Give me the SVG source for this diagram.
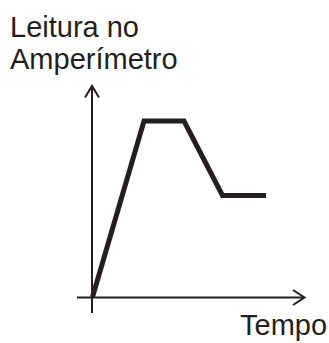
<svg xmlns="http://www.w3.org/2000/svg" width="329" height="343" viewBox="0 0 329 343">
<style>
.lbl{font-family:"Liberation Sans",Arial,sans-serif;font-size:29px;fill:#231f20}
.axis{stroke:#231f20;stroke-width:2;fill:none}
.curve{stroke:#231f20;stroke-width:5;fill:none;stroke-linejoin:miter}
</style>
<rect width="329" height="343" fill="#fff"/>
<g id="labels">
<text class="lbl" x="10" y="36.5">Leitura no</text>
<text class="lbl" x="10" y="68.5">Amperímetro</text>
<text class="lbl" x="240" y="334.5">Tempo</text>
</g>
<g id="connectors">
<line class="axis" x1="92" y1="313" x2="92" y2="86"/>
<polyline class="axis" points="85,97.5 92,86 99,97.5"/>
<line class="axis" x1="77" y1="297.5" x2="304" y2="297.5"/>
<polyline class="axis" points="293,290 304.5,297.5 293,305"/>
</g>
<g id="curve">
<polyline class="curve" points="92.5,297 144,121 184,121 222.5,195.5 266,195.5"/>
</g>
</svg>
